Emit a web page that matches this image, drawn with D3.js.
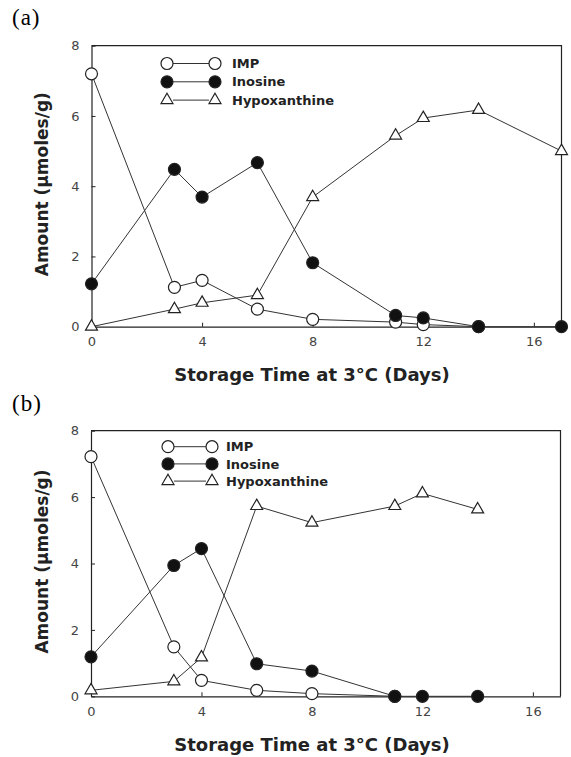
<!DOCTYPE html>
<html>
<head>
<meta charset="utf-8">
<script src="https://cdn.jsdelivr.net/npm/d3@7"></script>
<style>
  body { margin: 0; background: #fff; }
  svg { display: block; }
  .tick text { font-family: "DejaVu Sans", sans-serif; font-size: 13px; fill: #444; }
  .tick line { stroke: #222; }
  .domain { stroke: #222; }
</style>
</head>
<body>
<svg id="chart"></svg>
<script>
// storage days
const daysA = [0, 3, 4, 6, 8, 11, 12, 14, 17]
const daysB = [0, 3, 4, 6, 8, 11, 12, 14]

// panel (a), umoles/g
const impA = [7.2, 1.12, 1.32, 0.5, 0.21, 0.13, 0.06, 0]
const inosineA = [1.22, 4.48, 3.69, 4.67, 1.82, 0.32, 0.25, 0, 0]
const hypoA = [0, 0.5, 0.68, 0.9, 3.69, 5.44, 5.94, 6.17, 5.0]

// panel (b), umoles/g
const impB = [7.22, 1.49, 0.48, 0.18, 0.08, 0]
const inosineB = [1.19, 3.94, 4.45, 0.98, 0.76, 0, 0, 0]
const hypoB = [0.18, 0.45, 1.17, 5.73, 5.23, 5.73, 6.11, 5.63]

const xTicks = [0, 4, 8, 12, 16]
const yTicks = [0, 2, 4, 6, 8]
const legendNames = ['IMP', 'Inosine', 'Hypoxanthine']

const W = 571, H = 757
const svg = d3.select('#chart').attr('width', W).attr('height', H)

function toPoints(days, vals) {
  return vals.map((v, i) => [days[i], v])
}

function drawPanel(p) {
  const x = d3.scaleLinear().domain([0, 17]).range([p.left, p.right])
  const y = d3.scaleLinear().domain([0, 8]).range([p.bottom, p.top])
  const g = svg.append('g')

  // frame top + right
  g.append('path')
    .attr('d', `M${p.left},${p.top}H${p.right}V${p.bottom}`)
    .attr('fill', 'none').attr('stroke', '#222').attr('stroke-width', 1.2)

  g.append('g')
    .attr('transform', `translate(0,${p.bottom})`)
    .call(d3.axisBottom(x).tickValues(xTicks).tickSize(-4).tickSizeOuter(0).tickPadding(10))
    .call(a => a.select('.domain').attr('stroke-width', 1.2))

  g.append('g')
    .attr('transform', `translate(${p.left},0)`)
    .call(d3.axisLeft(y).tickValues(yTicks).tickSize(-4).tickSizeOuter(0).tickPadding(12))
    .call(a => a.select('.domain').attr('stroke-width', 1.2))

  const line = d3.line().x(d => x(d[0])).y(d => y(d[1]))
  const series = [
    { pts: toPoints(p.days, p.imp), type: 'open' },
    { pts: toPoints(p.days, p.ino), type: 'filled' },
    { pts: toPoints(p.days, p.hypo), type: 'tri' }
  ]

  series.forEach(s => {
    g.append('path').datum(s.pts)
      .attr('d', line)
      .attr('fill', 'none').attr('stroke', '#333').attr('stroke-width', 1)
  })

  const tri = d3.symbol(d3.symbolTriangle, 62)
  function marker(sel, type) {
    if (type === 'tri') {
      sel.append('path').attr('d', tri)
        .attr('fill', '#fff').attr('stroke', '#222').attr('stroke-width', 1.2)
    } else {
      sel.append('circle').attr('r', 6)
        .attr('fill', type === 'filled' ? '#111' : '#fff')
        .attr('stroke', '#222').attr('stroke-width', 1.2)
    }
  }

  series.forEach(s => {
    g.selectAll(null).data(s.pts).enter().append('g')
      .attr('transform', d => `translate(${x(d[0])},${y(d[1])})`)
      .call(sel => marker(sel, s.type))
  })

  // legend
  const leg = g.append('g')
  series.forEach((s, i) => {
    const ly = p.legTop + i * p.legGap
    leg.append('line')
      .attr('x1', p.legX + 6).attr('x2', p.legX + p.legW - 6)
      .attr('y1', ly).attr('y2', ly)
      .attr('stroke', '#333').attr('stroke-width', 1)
    leg.append('g').attr('transform', `translate(${p.legX},${ly})`).call(sel => marker(sel, s.type))
    leg.append('g').attr('transform', `translate(${p.legX + p.legW},${ly})`).call(sel => marker(sel, s.type))
    leg.append('text')
      .attr('x', p.legX + p.legW + p.legPad).attr('y', ly)
      .attr('dy', '0.36em')
      .style('font-family', '"DejaVu Sans", sans-serif')
      .style('font-size', '13px')
      .style('font-weight', 'bold')
      .attr('fill', '#222')
      .text(legendNames[i])
  })

  // axis titles
  g.append('text')
    .attr('x', 312).attr('y', p.xLabelY)
    .attr('text-anchor', 'middle')
    .style('font-family', '"DejaVu Sans", sans-serif')
    .style('font-size', '18px')
    .style('font-weight', 'bold')
    .attr('fill', '#222')
    .text('Storage Time at 3°C (Days)')

  g.append('text')
    .attr('transform', `translate(48,${(p.top + p.bottom) / 2 - 2}) rotate(-90)`)
    .attr('text-anchor', 'middle')
    .style('font-family', '"DejaVu Sans", sans-serif')
    .style('font-size', '17px')
    .style('font-weight', 'bold')
    .attr('fill', '#222')
    .text('Amount (μmoles/g)')

  g.append('text')
    .attr('x', 12).attr('y', p.tagY)
    .style('font-family', '"Liberation Serif", serif')
    .style('font-size', '23px')
    .style('letter-spacing', '1px')
    .attr('fill', '#000')
    .text(p.tag)
}

drawPanel({
  tag: '(a)', tagY: 25,
  left: 91.5, right: 561.5, top: 45.7, bottom: 326.7,
  days: daysA, imp: impA, ino: inosineA, hypo: hypoA,
  legX: 167, legW: 48, legPad: 17, legTop: 63.5, legGap: 18.3,
  xLabelY: 381
})

drawPanel({
  tag: '(b)', tagY: 411,
  left: 91, right: 560.5, top: 430.7, bottom: 696.3,
  days: daysB, imp: impB, ino: inosineB, hypo: hypoB,
  legX: 168, legW: 44, legPad: 14, legTop: 446.7, legGap: 17.2,
  xLabelY: 751
})
</script>
</body>
</html>
